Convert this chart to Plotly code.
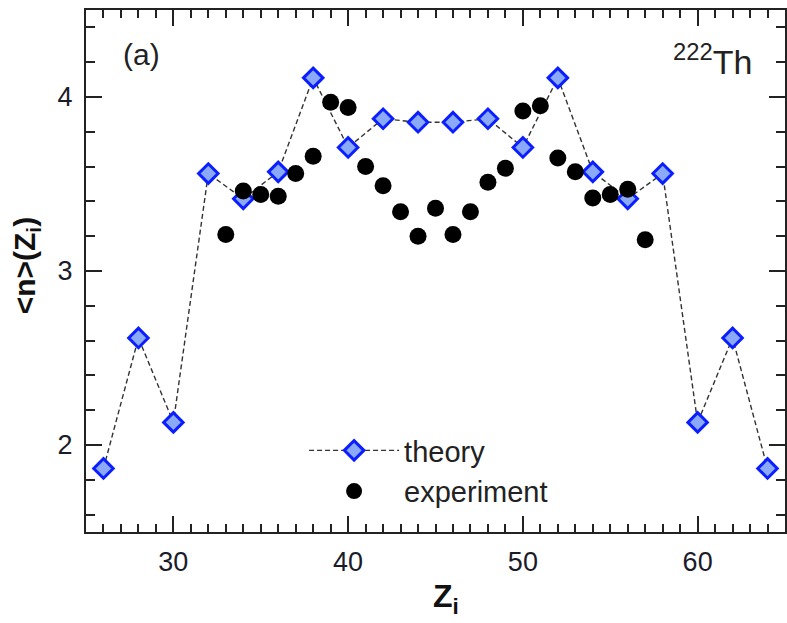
import plotly.graph_objects as go

# Theory: mean neutron multiplicity vs fragment charge (even Z)
z_theory = [26, 28, 30, 32, 34, 36, 38, 40, 42, 44, 46, 48, 50, 52, 54, 56, 58, 60, 62, 64]
n_theory = [1.865, 2.615, 2.13, 3.56, 3.415, 3.57, 4.11, 3.71, 3.875, 3.855,
            3.855, 3.875, 3.71, 4.11, 3.57, 3.415, 3.56, 2.13, 2.615, 1.865]

# Experiment: integer Z from 33 to 57
z_exp = list(range(33, 58))
n_exp = [3.21, 3.46, 3.44, 3.43, 3.56, 3.66, 3.97, 3.94, 3.60, 3.49, 3.34, 3.20, 3.36,
         3.21, 3.34, 3.51, 3.59, 3.92, 3.95, 3.65, 3.57, 3.42, 3.44, 3.47, 3.18]

x_ticks = [30, 40, 50, 60]
y_ticks = [2, 3, 4]

FONT = "Liberation Sans, Arial, Helvetica, sans-serif"
AX = "#222222"

fig = go.Figure()

fig.add_trace(go.Scatter(
    x=z_theory, y=n_theory, mode="lines+markers", name="theory",
    line=dict(color="#333333", width=1.4, dash="5px,3px"),
    marker=dict(symbol="diamond", size=15, color="#8aaaf9",
                line=dict(color="#0a1eff", width=3)),
))
fig.add_trace(go.Scatter(
    x=z_exp, y=n_exp, mode="markers", name="experiment",
    marker=dict(symbol="circle", size=17, color="#000000"),
))

axis_common = dict(
    showline=True, linecolor=AX, linewidth=2, mirror="ticks",
    ticks="inside", tickwidth=2, tickcolor=AX, ticklen=16,
    showgrid=False, zeroline=False,
    tickfont=dict(family=FONT, size=27, color="#1b1b2a"),
)

fig.update_xaxes(range=[25, 65], tickvals=x_ticks,
                 minor=dict(dtick=1, tick0=0, ticks="inside", ticklen=8,
                            tickwidth=2, tickcolor=AX, showgrid=False),
                 ticklabelstandoff=5, **axis_common)
fig.update_yaxes(range=[1.5, 4.5], tickvals=y_ticks,
                 minor=dict(dtick=0.2, tick0=0, ticks="inside", ticklen=9,
                            tickwidth=2, tickcolor=AX, showgrid=False),
                 ticklabelstandoff=6, **axis_common)

fig.add_annotation(text="&lt;n&gt;(Z<sub>i</sub>)", textangle=-90,
                   xref="paper", yref="paper", x=-0.085, y=0.51,
                   xanchor="center", yanchor="middle", showarrow=False,
                   font=dict(family=FONT, size=30, color="#111111", weight="bold"))
fig.add_annotation(text="Z<sub>i</sub>",
                   xref="paper", yref="paper", x=0.515, y=-0.128,
                   xanchor="center", yanchor="middle", showarrow=False,
                   font=dict(family=FONT, size=32, color="#111111", weight="bold"))
fig.add_annotation(text="(a)", xref="paper", yref="paper", x=0.05, y=0.915,
                   xanchor="left", yanchor="middle", showarrow=False,
                   font=dict(family=FONT, size=30, color="#222222"))
fig.add_annotation(text="<sup>222</sup>Th", xref="paper", yref="paper", x=0.955, y=0.905,
                   xanchor="right", yanchor="middle", showarrow=False,
                   font=dict(family=FONT, size=34, color="#222222"))

fig.update_layout(
    width=787, height=623,
    margin=dict(l=86, r=0, t=10, b=91),
    paper_bgcolor="white", plot_bgcolor="white",
    showlegend=True,
    legend=dict(x=0.312, y=0.205, xanchor="left", yanchor="top",
                bgcolor="rgba(0,0,0,0)", borderwidth=0,
                itemwidth=90, tracegroupgap=0,
                font=dict(family=FONT, size=29, color="#222222")),
)

fig.write_html("out.html")
